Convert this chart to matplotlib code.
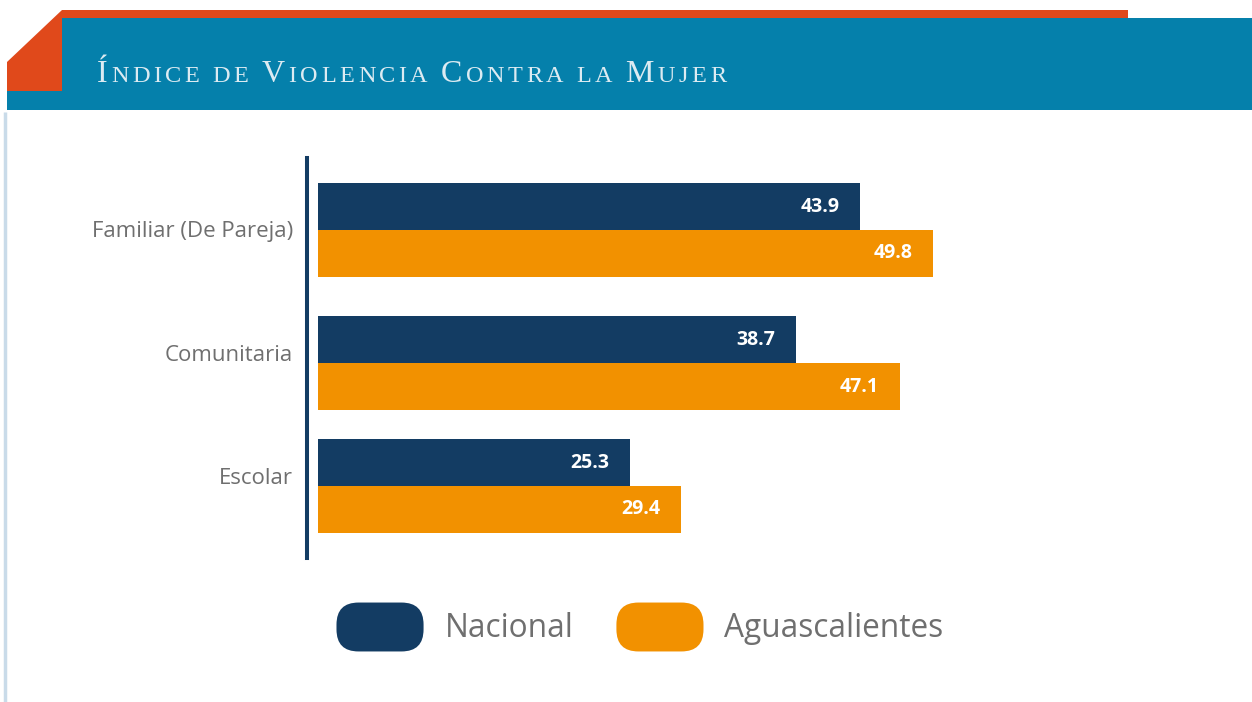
import matplotlib
matplotlib.use("Agg")
import matplotlib.pyplot as plt
import numpy as np
from matplotlib.patches import Polygon, Rectangle, FancyBboxPatch, Patch
from matplotlib.legend_handler import HandlerPatch
from matplotlib.transforms import ScaledTranslation

# ---- data ----
categories = ["Familiar (De Pareja)", "Comunitaria", "Escolar"]
series_names = ["Nacional", "Aguascalientes"]
nacional = [43.9, 38.7, 25.3]
aguascalientes = [49.8, 47.1, 29.4]
title = "Índice de Violencia Contra la Mujer"

# ---- style ----
C_NAC = "#133c63"
C_AGS = "#f29100"
C_HEAD = "#0580ab"
C_ACC = "#e0491b"
C_TXT = "#6f6f6f"

W, H = 1252, 702
fig = plt.figure(figsize=(W / 100, H / 100), dpi=100)
fig.patch.set_facecolor("white")

# background / decoration layer in pixel coordinates
bg = fig.add_axes([0, 0, 1, 1])
bg.set_xlim(0, W)
bg.set_ylim(H, 0)
bg.axis("off")
bg.add_patch(Rectangle((62, 18), W - 62, 92, color=C_HEAD, lw=0))
bg.add_patch(Rectangle((7, 90), 60, 20, color=C_HEAD, lw=0))
bg.add_patch(Rectangle((62, 10), 1128 - 62, 8, color=C_ACC, lw=0))
bg.add_patch(Polygon([(7, 62), (62, 10), (62, 91), (7, 91)], closed=True, color=C_ACC, lw=0))
bg.plot([5, 5], [112, H], color="#c9dbe9", lw=2.5, solid_capstyle="butt")

# title in small caps, per character with tracking to fit the header width
renderer = fig.canvas.get_renderer()
big, small = 23.0, 17.5
chars = []
for wi, word in enumerate(title.split(" ")):
    if wi > 0:
        chars.append((" ", small))
    for ci, ch in enumerate(word):
        chars.append((ch.upper(), big if (ci == 0 and ch.isupper()) else small))
arts = []
widths = []
for ch, sz in chars:
    if ch == " ":
        arts.append(None)
        widths.append(sz * 0.35)
        continue
    t = bg.text(0, 82, ch, fontsize=sz, family="Liberation Serif", color="#dcebf2",
                va="baseline", ha="left")
    arts.append(t)
    widths.append(t.get_window_extent(renderer=renderer).width)
x0, x1 = 97, 726
n_gaps = len(chars) - 1
track = ((x1 - x0) - sum(widths)) / n_gaps
x = x0
for t, w in zip(arts, widths):
    if t is not None:
        t.set_x(x)
    x += w + track

# ---- chart ----
ax = fig.add_axes([307 / W, 1 - 558 / H, (1000 - 307) / W, 400 / H])
ax.set_facecolor("none")
ypos = np.array([0.0, 1.04, 2.0])
bh = 0.367
b1 = ax.barh(ypos - bh / 2, nacional, height=bh, color=C_NAC, label=series_names[0])
b2 = ax.barh(ypos + bh / 2, aguascalientes, height=bh, color=C_AGS, label=series_names[1])
for bars, vals in ((b1, nacional), (b2, aguascalientes)):
    for rect, v in zip(bars, vals):
        ax.annotate(f"{v:.1f}", xy=(v, rect.get_y() + rect.get_height() / 2),
                    xytext=(-21, 0), textcoords="offset pixels", ha="right", va="center",
                    color="white", fontsize=14, fontweight="bold", family="Open Sans")
ax.set_xlim(-0.89, 55.22)
ax.set_ylim(2.5625, -0.5625)
ax.set_yticks(ypos)
ax.set_yticklabels(categories, fontsize=16, color=C_TXT, family="Open Sans")
ax.tick_params(axis="y", length=0, pad=10)
label_shift_px = [1, 10, 10]
for lbl, dy in zip(ax.get_yticklabels(), label_shift_px):
    lbl.set_transform(lbl.get_transform() + ScaledTranslation(0, dy / 100, fig.dpi_scale_trans))
ax.set_xticks([])
for s in ("top", "right", "bottom"):
    ax.spines[s].set_visible(False)
ax.spines["left"].set_color(C_NAC)
ax.spines["left"].set_linewidth(2.9)


class HandlerRound(HandlerPatch):
    def create_artists(self, legend, orig_handle, xdescent, ydescent, width, height, fontsize, trans):
        p = FancyBboxPatch((-xdescent, -ydescent), width, height,
                           boxstyle=f"round,pad=0,rounding_size={height*0.45}",
                           facecolor=orig_handle.get_facecolor(), edgecolor="none", transform=trans)
        return [p]


handles = [Patch(facecolor=C_NAC), Patch(facecolor=C_AGS)]
leg = fig.legend(handles, series_names, loc="center", bbox_to_anchor=(640 / W, 1 - 627 / H),
                 ncol=2, frameon=False, handler_map={Patch: HandlerRound()},
                 prop={"family": "Open Sans", "size": 22.8}, labelcolor=C_TXT,
                 handlelength=2.75, handleheight=2.0, handletextpad=0.66, columnspacing=1.36)

fig.savefig("out.png", dpi=100, facecolor="white")
